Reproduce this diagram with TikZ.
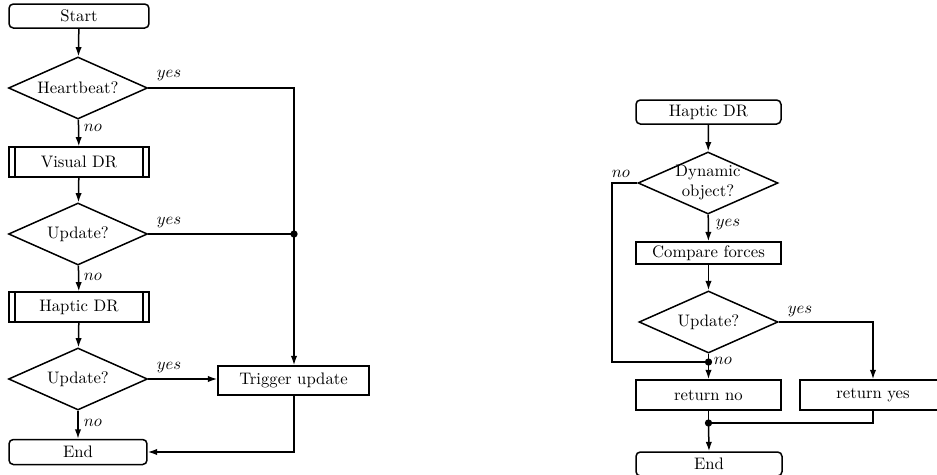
\documentclass[tikz,border=0pt]{standalone}
\usetikzlibrary{shapes.geometric,arrows.meta}
\begin{document}
\begin{tikzpicture}[x=0.6pt,y=-0.6pt,
  every node/.style={font=\normalsize},
  line/.style={line width=0.9pt},
  arr/.style={line width=0.9pt,-{Latex[length=5.6pt,width=3.8pt]}},
  term/.style={draw,line width=0.9pt,rounded corners=2.6pt,minimum width=84pt,minimum height=14.4pt,inner sep=1pt},
  proc/.style={draw,line width=0.9pt,minimum width=87pt,minimum height=17.4pt,inner sep=1pt},
  subproc/.style={draw,line width=0.9pt,minimum width=84pt,minimum height=17.8pt,inner sep=1pt,
    path picture={\draw[line width=0.9pt] ([xshift=3.6pt]path picture bounding box.north west) -- ([xshift=3.6pt]path picture bounding box.south west);
                  \draw[line width=0.9pt] ([xshift=-3.6pt]path picture bounding box.north east) -- ([xshift=-3.6pt]path picture bounding box.south east);}},
  decision/.style={draw,line width=0.9pt,diamond,aspect=2.24,minimum width=83.4pt,minimum height=37.2pt,inner sep=0pt,align=center},
  lbl/.style={inner sep=0pt},
  dot/.style={circle,fill,inner sep=0pt,minimum size=4.4pt}
]
\clip (0,0) rectangle (937,475);
% ---------- left chart ----------
\node[term] (start) at (79,16) {Start};
\node[decision] (hb) at (78,88) {Heartbeat?};
\node[subproc] (vis) at (79,162) {Visual DR};
\node[decision] (up1) at (78,234) {Update?};
\node[subproc] (hap) at (79,307) {Haptic DR};
\node[decision] (up2) at (78,379) {Update?};
\node[proc,minimum width=90.6pt] (trig) at (293.5,380.5) {Trigger update};
\node[term,minimum width=82.8pt,minimum height=15pt] (endL) at (78,452) {End};
\node[dot] (j1) at (294,234) {};
\coordinate (c1) at (294,88);
\coordinate (c2) at (294,452);

\draw[arr] (start) -- (hb);
\draw[arr] (hb) -- (vis);
\draw[arr] (vis) -- (up1);
\draw[arr] (up1) -- (hap);
\draw[arr] (hap) -- (up2);
\draw[arr] (up2) -- (endL);
\draw[arr] (up2.east) -- (up2.east -| trig.west);
\draw[line] (hb.east) -- (c1) -- (j1.center);
\draw[line] (up1.east) -- (j1.center);
\draw[arr] (j1.center) -- (j1.center |- trig.north);
\draw[arr] (c2 |- trig.south) -- (c2) -- (endL.east);

\node[lbl] (y1) at (169,76) {$yes$};
\node[lbl] (y2) at (169,223) {$yes$};
\node[lbl] (y3) at (169,368) {$yes$};
\node[lbl] (n1) at (93,128) {$no$};
\node[lbl] (n2) at (93,277) {$no$};
\node[lbl] (n3) at (93,423) {$no$};

% ---------- right chart ----------
\node[term,minimum width=87pt] (hapR) at (708.5,112) {Haptic DR};
\node[decision,minimum width=84pt,inner sep=-2.2pt] (dyn) at (708,183) {Dynamic\\object?};
\node[proc,minimum height=13.2pt] (cmp) at (708.5,253) {Compare forces};
\node[decision] (up3) at (708.5,322) {Update?};
\node[proc,minimum height=18pt] (retno) at (708.5,395) {return no};
\node[proc,minimum width=87.6pt,minimum height=18pt] (retyes) at (873,395) {return yes};
\node[term,minimum width=87.6pt,minimum height=14.4pt] (endR) at (709,464) {End};
\node[dot] (dA) at (708.5,362) {};
\node[dot] (dB) at (708.5,423) {};
\coordinate (c3) at (612,183);
\coordinate (c4) at (612,362);
\coordinate (c5) at (873,322);
\coordinate (c6) at (873,423);

\draw[arr] (hapR) -- (dyn);
\draw[arr] (dyn) -- (cmp);
\draw[arr] (cmp) -- (up3);
\draw[line] (up3.south) -- (dA.center);
\draw[arr] (dA.center) -- (retno.north);
\draw[line] (dyn.west) -- (c3) -- (c4) -- (dA.center);
\draw[arr] (up3.east) -- (c5) -- (retyes.north);
\draw[line] (retno.south) -- (dB.center);
\draw[line] (retyes.south) -- (c6) -- (dB.center);
\draw[arr] (dB.center) -- (endR.north);

\node[lbl] (n4) at (621,174) {$no$};
\node[lbl] (y4) at (728,225) {$yes$};
\node[lbl] (y5) at (800,312) {$yes$};
\node[lbl] (n5) at (723,361) {$no$};
\end{tikzpicture}
\end{document}
